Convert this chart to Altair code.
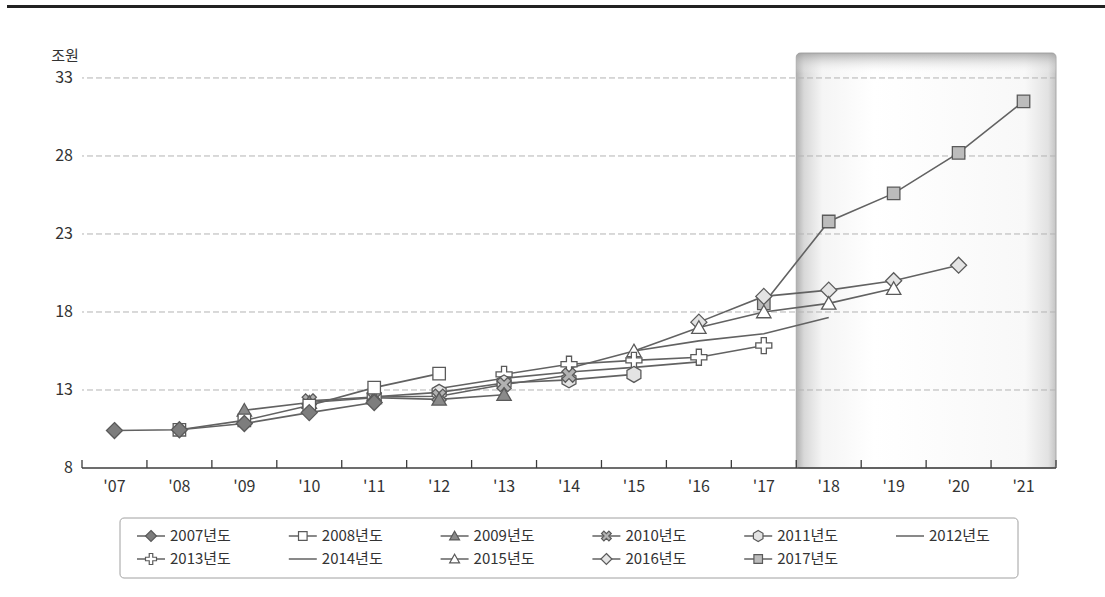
import math
import pandas as pd
import altair as alt

# ---------------- data ----------------
years = ["'07", "'08", "'09", "'10", "'11", "'12", "'13", "'14", "'15",
         "'16", "'17", "'18", "'19", "'20", "'21"]
series = ["2007년도", "2008년도", "2009년도", "2010년도", "2011년도", "2012년도",
          "2013년도", "2014년도", "2015년도", "2016년도", "2017년도"]
start_year = ["'07", "'08", "'09", "'10", "'11", "'12", "'13", "'14", "'15", "'16", "'17"]

plan_2007 = [10.4, 10.45, 10.85, 11.55, 12.2]
plan_2008 = [10.45, 11.05, 12.0, 13.15, 14.05]
plan_2009 = [11.7, 12.2, 12.5, 12.4, 12.7]
plan_2010 = [12.3, 12.55, 12.6, 13.35, 13.95]
plan_2011 = [12.57, 12.85, 13.45, 13.65, 14.0]
plan_2012 = [13.1, 13.75, 14.15, 14.45, 14.8]
plan_2013 = [14.0, 14.65, 14.9, 15.1, 15.85]
plan_2014 = [14.4, 15.5, 16.15, 16.6, 17.65]
plan_2015 = [15.5, 17.0, 18.0, 18.55, 19.5]
plan_2016 = [17.35, 19.0, 19.4, 20.0, 21.0]
plan_2017 = [18.55, 23.8, 25.6, 28.2, 31.5]
plans = [plan_2007, plan_2008, plan_2009, plan_2010, plan_2011, plan_2012,
         plan_2013, plan_2014, plan_2015, plan_2016, plan_2017]

y_ticks = [8, 13, 18, 23, 28, 33]
y_unit = "조원"
highlight = ["'18", "'21"]

# ---------------- styles ----------------
markers = ["diamond", "square", "triangle", "x", "hexagon", "none",
           "plus", "none", "triangle", "diamond", "square"]
fills = ["#7d7d7d", "#ffffff", "#8a8a8a", "#b2b2b2", "#e3e3e3", "#ffffff",
         "#ffffff", "#ffffff", "#ffffff", "#e4e4e4", "#bcbcbc"]
LINE = "#626262"
MSTROKE = "#5a5a5a"
AXIS = "#3c3c3c"
FONT = "Noto Sans CJK KR"
TXT = "#333333"

W, H = 974, 415
YMAX = 34.6

w = 0.32
plus_pts = [(-w, -1), (w, -1), (w, -w), (1, -w), (1, w), (w, w), (w, 1), (-w, 1),
            (-w, w), (-1, w), (-1, -w), (-w, -w)]
s2 = math.sqrt(2)
x_pts = [((x - y) / s2 * 0.95, (x + y) / s2 * 0.95) for x, y in plus_pts]
shapes = {
    "diamond": [(0, -1), (1, 0), (0, 1), (-1, 0)],
    "square": [(-0.78, -0.78), (0.78, -0.78), (0.78, 0.78), (-0.78, 0.78)],
    "triangle": [(0, -0.85), (0.9, 0.72), (-0.9, 0.72)],
    "hexagon": [(0, -1), (0.87, -0.5), (0.87, 0.5), (0, 1), (-0.87, 0.5), (-0.87, -0.5)],
    "plus": plus_pts,
    "x": x_pts,
}


def poly_path(pts):
    return "M" + "L".join(f"{px:.3f},{py:.3f}" for px, py in pts) + "Z"


paths = [("M0,0" if m == "none" else poly_path(shapes[m])) for m in markers]

# ---------------- tables ----------------
rows = []
for si, (name, st, vals) in enumerate(zip(series, start_year, plans)):
    x0 = years.index(st)
    for k, v in enumerate(vals):
        rows.append({"series": name, "sidx": si, "xi": x0 + k, "v": v,
                     "shp": paths[si], "fc": fills[si]})
df = pd.DataFrame(rows)

# legend layout (pixel positions relative to plot origin)
LEG_X0, LEG_DX, LEG_Y0, LEG_DY, NCOL = 55, 151.8, 483, 23, 6
leg_rows = []
for i, name in enumerate(series):
    c, r = i % NCOL, i // NCOL
    sx = LEG_X0 + LEG_DX * c
    sy = LEG_Y0 + LEG_DY * r
    leg_rows.append({"series": name, "sx0": sx, "sx1": sx + 28, "mx": sx + 14,
                     "tx": sx + 33, "sy": sy, "shp": paths[i], "fc": fills[i],
                     "has": markers[i] != "none"})
leg_df = pd.DataFrame(leg_rows)

xscale = alt.Scale(domain=[-0.5, len(years) - 0.5], nice=False, zero=False)
yscale = alt.Scale(domain=[y_ticks[0], YMAX], nice=False, zero=False)

box_df = pd.DataFrame([{"x0": years.index(highlight[0]) - 0.5,
                        "x1": years.index(highlight[1]) + 0.5}])
grid_df = pd.DataFrame({"g": y_ticks[1:]})
ylab_df = pd.DataFrame({"g": y_ticks, "lab": [str(t) for t in y_ticks]})
xlab_df = pd.DataFrame({"xi": list(range(len(years))), "lab": years})
tick_df = pd.DataFrame({"t": [i - 0.5 for i in range(len(years) + 1)]})
unit_df = pd.DataFrame({"lab": [y_unit]})

box = alt.Chart(box_df).mark_rect(
    cornerRadius=4, stroke="#a9a9a9", strokeWidth=1,
    fill=alt.LinearGradient(gradient="linear", x1=0, x2=1, y1=0, y2=0, stops=[
        alt.GradientStop(offset=0, color="#b0b0b0"),
        alt.GradientStop(offset=0.03, color="#d8d8d8"),
        alt.GradientStop(offset=0.1, color="#f5f5f5"),
        alt.GradientStop(offset=0.3, color="#ffffff"),
        alt.GradientStop(offset=0.88, color="#f8f8f8"),
        alt.GradientStop(offset=0.97, color="#e2e2e2"),
        alt.GradientStop(offset=1, color="#c4c4c4"),
    ])
).encode(
    x=alt.X("x0:Q", scale=xscale, axis=None),
    x2="x1:Q",
    y=alt.value(0),
    y2=alt.value(H),
)

box_top = alt.Chart(box_df).mark_rect(
    cornerRadius=4,
    fill=alt.LinearGradient(gradient="linear", x1=0, x2=0, y1=0, y2=1, stops=[
        alt.GradientStop(offset=0, color="rgba(150,150,150,0.7)"),
        alt.GradientStop(offset=0.05, color="rgba(255,255,255,0)"),
        alt.GradientStop(offset=1, color="rgba(255,255,255,0)"),
    ])
).encode(
    x=alt.X("x0:Q", scale=xscale, axis=None),
    x2="x1:Q",
    y=alt.value(0),
    y2=alt.value(H),
)

grid = alt.Chart(grid_df).mark_rule(
    color="#b3b3b3", strokeWidth=1, strokeDash=[6, 3]
).encode(y=alt.Y("g:Q", scale=yscale, axis=None))

ylabels = alt.Chart(ylab_df).mark_text(
    align="right", baseline="middle", font=FONT, fontSize=16, color=TXT
).encode(x=alt.value(-9), y=alt.Y("g:Q", scale=yscale, axis=None), text="lab:N")

unit_txt = alt.Chart(unit_df).mark_text(
    align="center", baseline="middle", font=FONT, fontSize=15, color=TXT
).encode(x=alt.value(-17), y=alt.value(3), text="lab:N")

xlabels = alt.Chart(xlab_df).mark_text(
    align="center", baseline="middle", font=FONT, fontSize=16, color=TXT
).encode(x=alt.X("xi:Q", scale=xscale, axis=None), y=alt.value(H + 19), text="lab:N")

lines = alt.Chart(df).mark_line(color=LINE, strokeWidth=1.6).encode(
    x=alt.X("xi:Q", scale=xscale, axis=None),
    y=alt.Y("v:Q", scale=yscale, axis=None),
    detail="series:N",
    order="xi:Q",
)

points = alt.Chart(df).mark_point(
    filled=True, stroke=MSTROKE, strokeWidth=1.3, size=256, opacity=1
).encode(
    x=alt.X("xi:Q", scale=xscale, axis=None),
    y=alt.Y("v:Q", scale=yscale, axis=None),
    shape=alt.Shape("shp:N", scale=None),
    fill=alt.Fill("fc:N", scale=None),
    order=alt.Order("sidx:Q", sort="descending"),
)

axis_line = alt.Chart(box_df).mark_rule(color=AXIS, strokeWidth=1.5).encode(
    x=alt.value(0), x2=alt.value(W), y=alt.value(H))

ticks = alt.Chart(tick_df).mark_rule(color=AXIS, strokeWidth=1.3).encode(
    x=alt.X("t:Q", scale=xscale, axis=None),
    y=alt.value(H),
    y2=alt.value(H - 8),
)

topbar = alt.Chart(box_df).mark_rule(color="#222222", strokeWidth=3).encode(
    x=alt.value(-75), x2=alt.value(1023), y=alt.value(-46.5)
)

# ---------------- legend (drawn) ----------------
leg_box = alt.Chart(box_df).mark_rect(
    fill="#ffffff", stroke="#a0a0a0", strokeWidth=1, cornerRadius=4
).encode(x=alt.value(38), x2=alt.value(936), y=alt.value(465), y2=alt.value(525))

leg_line = alt.Chart(leg_df).mark_rule(color=LINE, strokeWidth=1.5).encode(
    x=alt.X("sx0:Q", scale=None), x2="sx1:Q", y=alt.Y("sy:Q", scale=None))

leg_pt = alt.Chart(leg_df).transform_filter("datum.has").mark_point(
    filled=True, stroke=MSTROKE, strokeWidth=1.2, size=121, opacity=1
).encode(
    x=alt.X("mx:Q", scale=None), y=alt.Y("sy:Q", scale=None),
    shape=alt.Shape("shp:N", scale=None), fill=alt.Fill("fc:N", scale=None))

leg_txt = alt.Chart(leg_df).mark_text(
    align="left", baseline="middle", font=FONT, fontSize=15, color=TXT
).encode(x=alt.X("tx:Q", scale=None), y=alt.Y("sy:Q", scale=None), text="series:N")

chart = alt.layer(box, box_top, grid, lines, points, axis_line, ticks, topbar,
                  ylabels, unit_txt, xlabels,
                  leg_box, leg_line, leg_pt, leg_txt).properties(
    width=W, height=H,
    autosize=alt.AutoSizeParams(type="none"),
    padding={"left": 82, "top": 53, "right": 49, "bottom": 129},
).configure(font=FONT).configure_view(strokeWidth=0, stroke="transparent")

chart.save("out.html", embed_options={"renderer": "svg", "actions": False})
